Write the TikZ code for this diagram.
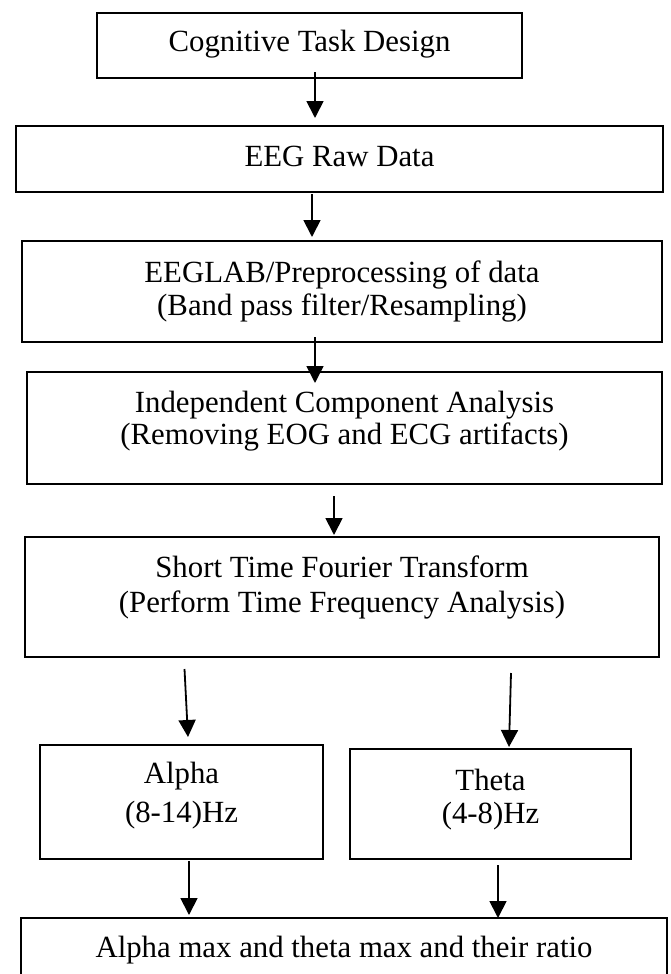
\documentclass[tikz,border=0pt]{standalone}
\usepackage{fontspec}
\setmainfont{Liberation Serif}
\usetikzlibrary{arrows.meta,fit}
\begin{document}
\begin{tikzpicture}[x=1pt,y=-1pt,
  box/.style={draw, line width=2pt, inner sep=0pt, fit={#1}},
  txt/.style={anchor=base, align=center, inner sep=0pt, font=\fontsize{30.8}{#1}\selectfont},
  txt/.default=33,
  arr/.style={line width=1.8pt, -{Triangle[width=17pt,length=17pt]}}]
\useasboundingbox (0,0) rectangle (670,974);
\clip (0,0) rectangle (670,974);
% boxes
\node[box={(97,13) (522,78)}] (b1) {};
\node[box={(16,126) (663,192)}] (b2) {};
\node[box={(22,241) (662,342)}] (b3) {};
\node[box={(27,372) (662,484)}] (b4) {};
\node[box={(24.5,537) (659,657)}] (b5) {};
\node[box={(40,745) (323,859)}] (b6) {};
\node[box={(350,749) (631,859)}] (b7) {};
\node[box={(21,918) (667,1010)}] (b8) {};
% texts (multi-line nodes: base = last line's baseline)
\node[txt] (t1) at (309.5,52) {Cognitive Task Design};
\node[txt] (t2) at (339.5,166) {EEG Raw Data};
\node[txt=33] (t3) at (342,315) {EEGLAB/Preprocessing of data\\(Band pass filter/Resampling)};
\node[txt=32] (t4) at (344.5,444) {Independent Component Analysis\\(Removing EOG and ECG artifacts)};
\node[txt=35] (t5) at (342,612) {Short Time Fourier Transform\\(Perform Time Frequency Analysis)};
\node[txt=39] (t6) at (181.5,822) {Alpha\\(8-14)Hz};
\node[txt=33] (t7) at (490.5,823) {Theta\\(4-8)Hz};
\node[txt] (t8) at (344,957) {Alpha max and theta max and their ratio};
% arrow end points
\coordinate (a1s) at (315,72);   \coordinate (a1e) at (315,118);
\coordinate (a2s) at (312,194);  \coordinate (a2e) at (312,237);
\coordinate (a3s) at (315,337);  \coordinate (a3e) at (315,383);
\coordinate (a4s) at (334,496);  \coordinate (a4e) at (334,535);
\coordinate (a5s) at (184.5,669);\coordinate (a5e) at (188,737);
\coordinate (a6s) at (511,673);  \coordinate (a6e) at (509,747);
\coordinate (a7s) at (189,861);  \coordinate (a7e) at (189,915);
\coordinate (a8s) at (498,865);  \coordinate (a8e) at (498,918);
\draw[arr] (a1s) -- (a1e);
\draw[arr] (a2s) -- (a2e);
\draw[arr] (a3s) -- (a3e);
\draw[arr] (a4s) -- (a4e);
\draw[arr] (a5s) -- (a5e);
\draw[arr] (a6s) -- (a6e);
\draw[arr] (a7s) -- (a7e);
\draw[arr] (a8s) -- (a8e);
\end{tikzpicture}
\end{document}
